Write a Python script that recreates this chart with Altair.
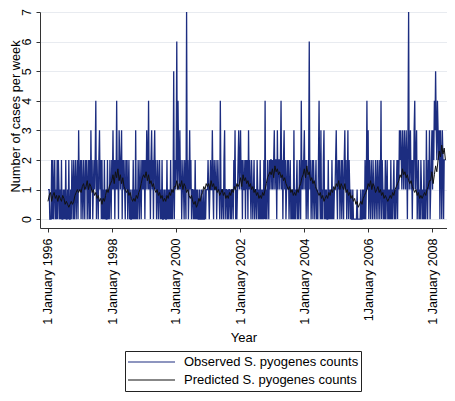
import altair as alt
import numpy as np
import pandas as pd

# ---- observed weekly counts, one list per year ----
obs_1996 = [1,1,1,0, 0,0,2,0, 2,0,1,2, 0,1,0,2, 0,2,1,0, 1,0,2,0, 0,1,0,1, 0,2,0,0, 1,0,2,0, 0,1,0,2, 1,0,2,0, 1,2,0,1, 2,0,3,1]
obs_1997 = [1,2,0,2, 1,0,2,1, 0,2,1,2, 0,1,2,0, 2,0,3,1, 2,0,1,2, 1,2,4,0, 2,1,0,2, 3,1,2,0, 2,0,1,0, 2,0,1,0, 0,2,0,1, 0,2,1,0]
obs_1998 = [2,1,3,1, 2,0,2,1, 4,1,2,0, 3,2,1,2, 3,0,2,1, 2,1,0,2, 1,2,0,1, 2,0,1,0, 0,1,0,2, 0,1,0,3, 0,1,0,2, 1,0,2,1, 0,2,1,2]
obs_1999 = [1,2,0,2, 1,3,2,1, 4,1,2,0, 2,3,1,2, 0,2,3,1, 2,0,1,2, 0,1,2,0, 1,0,2,0, 0,1,0,1, 0,0,2,0, 1,0,1,0, 2,0,1,0, 1,5,0,2]
obs_2000 = [1,2,6,1, 4,2,1,3, 1,2,0,1, 2,1,0,2, 1,0,7,1, 2,0,1,3, 1,2,0,1, 1,0,1,0, 2,0,1,0, 1,0,0,1, 0,0,1,0, 0,1,0,0, 1,0,1,1]
obs_2001 = [1,2,1,0, 1,2,1,1, 3,1,0,2, 1,1,2,0, 1,2,1,1, 0,4,1,0, 1,1,0,2, 3,0,1,1, 0,1,0,1, 1,0,1,0, 1,1,0,2, 1,3,0,1, 0,1,2,3]
obs_2002 = [1,2,3,1, 2,0,2,1, 1,2,0,2, 1,2,0,3, 1,2,1,0, 2,1,0,1, 2,0,1,1, 0,2,1,0, 1,0,2,0, 1,0,1,0, 2,0,4,0, 1,0,2,1, 0,2,1,2]
obs_2003 = [2,1,2,1, 2,3,1,2, 2,0,3,1, 2,2,1,2, 4,1,2,0, 2,3,1,2, 0,1,2,1, 2,0,1,2, 0,1,0,1, 0,3,0,1, 0,1,2,0, 1,0,2,1, 0,4,1,2]
obs_2004 = [1,2,3,1, 2,0,2,1, 0,2,6,1, 2,0,1,2, 0,2,1,0, 1,2,0,1, 0,2,4,1, 0,3,0,1, 0,2,3,0, 1,0,1,0, 0,2,0,1, 0,1,0,2, 0,1,0,1]
obs_2005 = [1,2,3,1, 0,2,1,2, 0,1,2,0, 2,1,0,2, 3,1,2,0, 1,3,0,2, 1,0,1,0, 0,1,0,0, 0,0,0,0, 1,0,0,0, 0,0,1,0, 0,1,0,1, 0,2,0,1]
obs_2006 = [4,1,3,0, 2,1,0,2, 1,0,2,1, 0,1,2,0, 1,2,0,1, 2,0,1,4, 0,2,1,0, 1,0,2,0, 1,2,0,1, 0,1,0,2, 0,1,0,1, 2,0,1,0, 1,2,0,2]
obs_2007 = [1,3,2,3, 2,1,3,2, 1,3,2,1, 3,2,0,3, 7,1,2,3, 1,2,0,2, 1,3,4,1, 2,3,0,1, 2,0,1,0, 2,1,0,1, 0,2,0,1, 0,3,1,0, 2,1,3,0]
obs_2008 = [1,2,3,1, 3,2,4,3, 5,3,2,4, 3,2,3,0, 3,2,0,3, 2,0,2,2, 2]

# ---- predicted counts, every second week (estimated), one list per year ----
pred_1996 = [0.6,0.8,0.9,0.6,0.8,0.9,0.7,0.8,0.6,0.8,0.7,0.6,0.8,0.7,0.5,0.6,0.5,0.4,0.5,0.6,0.5,0.6,0.8,0.9,1.0,0.9]
pred_1997 = [1.0,0.9,1.1,1.2,1.0,1.1,1.3,1.0,1.2,1.1,0.9,1.0,0.8,0.9,0.7,0.8,0.6,0.7,0.5,0.7,0.6,0.8,1.0,0.9,1.1,1.2]
pred_1998 = [1.3,1.5,1.2,1.6,1.4,1.7,1.3,1.5,1.2,1.4,1.1,1.0,0.9,1.0,0.8,0.9,0.7,0.6,0.7,0.6,0.8,0.7,0.9,1.0,1.2,1.4]
pred_1999 = [1.5,1.4,1.6,1.3,1.5,1.2,1.3,1.1,1.2,1.0,0.9,1.0,0.8,0.9,0.7,0.8,0.6,0.7,0.6,0.8,0.7,0.9,0.8,1.0,0.9,1.1]
pred_2000 = [1.1,1.3,1.0,1.2,1.1,1.3,1.0,1.2,1.1,0.9,1.0,0.8,0.7,0.8,0.6,0.5,0.6,0.4,0.5,0.7,0.6,0.8,0.9,1.1,1.0,1.2]
pred_2001 = [1.1,1.2,1.0,1.3,1.1,1.2,1.0,1.1,0.9,1.0,0.8,0.9,1.0,0.8,0.9,0.7,0.8,0.7,0.9,0.8,1.0,0.9,1.1,1.0,1.2,1.1]
pred_2002 = [1.2,1.4,1.1,1.5,1.3,1.4,1.2,1.3,1.1,1.2,1.0,1.1,0.9,1.0,0.8,0.9,0.7,0.8,0.7,0.9,0.8,1.0,1.2,1.4,1.5,1.6]
pred_2003 = [1.5,1.7,1.4,1.8,1.6,1.7,1.5,1.6,1.4,1.5,1.3,1.4,1.2,1.1,1.0,1.1,0.9,1.0,0.8,0.9,0.8,1.0,0.9,1.1,1.2,1.4]
pred_2004 = [1.5,1.7,1.4,1.8,1.5,1.6,1.3,1.4,1.2,1.3,1.1,1.0,0.9,0.8,0.9,0.7,0.8,0.6,0.7,0.8,0.7,0.9,0.8,1.0,0.9,1.1]
pred_2005 = [1.0,1.2,1.1,1.3,1.0,1.2,1.1,1.0,1.2,0.9,1.0,0.8,0.9,0.7,0.8,0.6,0.7,0.5,0.6,0.4,0.5,0.6,0.5,0.7,0.8,0.9]
pred_2006 = [1.0,1.2,1.1,1.3,1.0,1.2,1.1,0.9,1.0,1.1,0.9,1.0,0.8,0.9,0.7,0.8,0.7,0.6,0.7,0.8,0.7,0.9,0.8,1.0,1.1,1.2]
pred_2007 = [1.3,1.5,1.4,1.7,1.5,1.6,1.4,1.5,1.3,1.2,1.3,1.1,1.0,0.9,1.0,0.8,0.9,0.7,0.8,0.7,0.8,0.9,0.8,1.0,1.1,1.3]
pred_2008 = [1.3,1.6,1.2,1.5,1.8,1.6,2.0,2.3,2.1,2.5,2.2,2.4,2.0]

# ---- axis tick labels ----
tick_years = [1996, 1998, 2000, 2002, 2004, 2006, 2008]
tick_labels = ["1 January 1996", "1 January 1998", "1 January 2000", "1 January 2002",
               "1 January 2004", "1January 2006", "1 January 2008"]
y_ticks = [0, 1, 2, 3, 4, 5, 6, 7]

series_names = ["Observed S. pyogenes counts", "Predicted S. pyogenes counts"]
series_colors = ["#1c2d80", "#111111"]

obs_years = [obs_1996, obs_1997, obs_1998, obs_1999, obs_2000, obs_2001, obs_2002,
             obs_2003, obs_2004, obs_2005, obs_2006, obs_2007, obs_2008]
pred_years = [pred_1996, pred_1997, pred_1998, pred_1999, pred_2000, pred_2001, pred_2002,
              pred_2003, pred_2004, pred_2005, pred_2006, pred_2007, pred_2008]

start = pd.Timestamp("1996-01-01")

obs_vals = [v for lst in obs_years for v in lst]
obs_df = pd.DataFrame({
    "date": start + pd.to_timedelta(7 * np.arange(len(obs_vals)), unit="D"),
    "value": obs_vals,
    "series": series_names[0],
})

pred_weeks, pred_vals = [], []
for yi, lst in enumerate(pred_years):
    for j, v in enumerate(lst):
        pred_weeks.append(52 * yi + 2 * j)
        pred_vals.append(v)
pred_df = pd.DataFrame({
    "date": start + pd.to_timedelta(7 * np.array(pred_weeks), unit="D"),
    "value": pred_vals,
    "series": series_names[1],
})

label_expr = "''"
for yr, lab in reversed(list(zip(tick_years, tick_labels))):
    label_expr = f"year(datum.value) == {yr} ? '{lab}' : ({label_expr})"

FONT = "Liberation Sans, Arial, Helvetica, sans-serif"

x_enc = alt.X(
    "date:T",
    title="Year",
    scale=alt.Scale(domain=[alt.DateTime(year=1995, month=10, date=2),
                            alt.DateTime(year=2008, month=6, date=20)], nice=False),
    axis=alt.Axis(
        values=[alt.DateTime(year=y, month=1, date=1) for y in tick_years],
        labelExpr=label_expr,
        labelAngle=270,
        labelPadding=6,
        tickSize=4,
        grid=False,
        titlePadding=7,
        titleFontSize=13,
    ),
)
y_enc = alt.Y(
    "value:Q",
    title="Number of cases per week",
    scale=alt.Scale(domain=[-0.3, 7], nice=False, zero=False),
    axis=alt.Axis(
        values=y_ticks,
        labelAngle=270,
        tickSize=4,
        labelPadding=3,
        grid=True,
        titleAngle=270,
        titleX=-25,
        titleY=104,
        titleAlign="center",
        titleBaseline="middle",
        titleFontSize=12.8,
    ),
)
color_enc = alt.Color(
    "series:N",
    title=None,
    scale=alt.Scale(domain=series_names, range=series_colors),
    legend=alt.Legend(
        orient="none",
        legendX=85,
        legendY=339,
        direction="vertical",
        symbolType="stroke",
        symbolSize=2209,
        symbolStrokeWidth=1.2,
        clipHeight=18,
        rowPadding=0,
        labelOffset=8,
        labelLimit=400,
        padding=2,
        strokeColor="#222222",
        labelFontSize=13,
        labelFont=FONT,
        labelColor="#000000",
    ),
)

obs_line = alt.Chart(obs_df).mark_line(strokeWidth=1.3).encode(x=x_enc, y=y_enc, color=color_enc)
pred_line = alt.Chart(pred_df).mark_line(strokeWidth=1.0).encode(x=x_enc, y=y_enc, color=color_enc)

chart = (
    alt.layer(obs_line, pred_line)
    .properties(
        width=407,
        height=216,
        autosize=alt.AutoSizeParams(type="none"),
        padding={"left": 32, "top": 4, "right": 0, "bottom": 165},
        background="#ffffff",
    )
    .configure_view(strokeWidth=0)
    .configure_axis(
        labelFont=FONT,
        titleFont=FONT,
        labelFontSize=12.5,
        titleFontWeight="normal",
        labelColor="#000000",
        titleColor="#000000",
        domainColor="#333333",
        tickColor="#333333",
        gridColor="#e8ebf0",
        gridWidth=1,
    )
)

chart.save("out.html", embed_options={"renderer": "svg", "actions": False})
